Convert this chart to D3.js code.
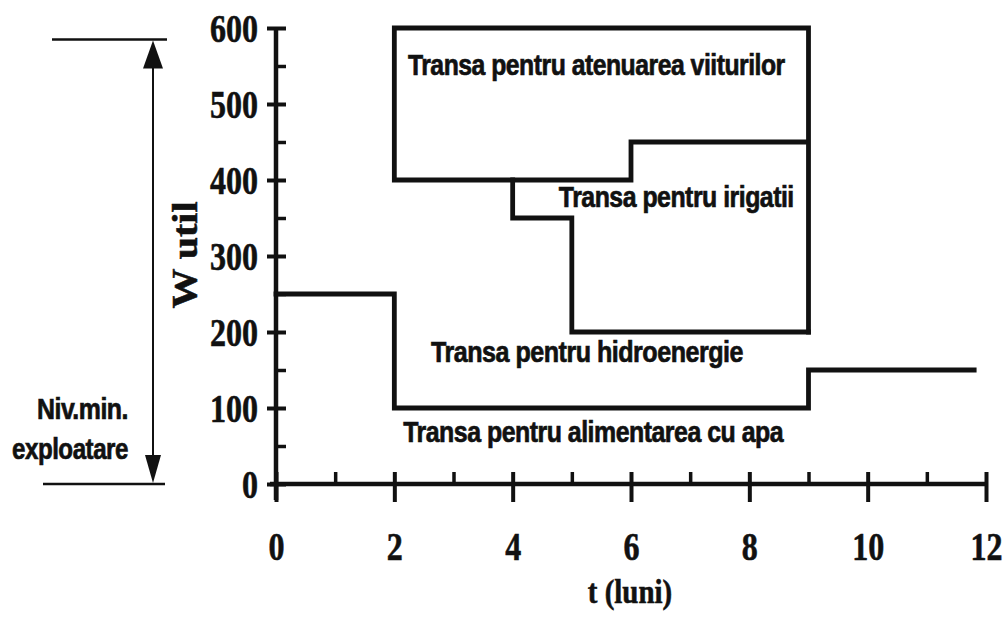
<!DOCTYPE html>
<html>
<head>
<meta charset="utf-8">
<script src="https://cdn.jsdelivr.net/npm/d3@7"></script>
<style>
  html, body { margin: 0; padding: 0; background: #fff; }
  svg { display: block; }
</style>
</head>
<body>
<svg id="chart" width="1005" height="623"></svg>
<script>
// Month ticks (t, luni) and storage ticks (W util)
const monthTicks = [0, 2, 4, 6, 8, 10, 12];
const monthMinorTicks = [1, 3, 5, 7, 9, 11];
const volumeTicks = [0, 100, 200, 300, 400, 500, 600];
const volumeMinorTicks = [50, 150, 250, 350, 450, 550];

// Flood-attenuation slice outline (its right edge continues down to the irrigation floor)
const floodT = [9, 6, 6, 2, 2, 9, 9];
const floodW = [450, 450, 400, 400, 600, 600, 200];

// Lower boundary of the irrigation slice
const irrigT = [4, 4, 5, 5, 9];
const irrigW = [400, 350, 350, 200, 200];

// Boundary between hydropower slice and water-supply slice
const hydroT = [0, 2, 2, 9, 9, 11.8];
const hydroW = [250, 250, 100, 100, 150, 150];

// Useful storage range shown by the arrow on the left (from minimum operating level)
const usefulRange = [0, 585];

// Slice labels, anchored at (t, W) of their baseline start
const sliceLabels = ["Transa pentru atenuarea viiturilor", "Transa pentru irigatii", "Transa pentru hidroenergie", "Transa pentru alimentarea cu apa"];
const sliceLabelT = [2.23, 4.78, 2.62, 2.15];
const sliceLabelW = [538, 365, 160, 55];

// Condensed label widths (px)
const sliceLabelWidth = [377, 235, 312, 380];

const svg = d3.select("#chart");
const ink = "#111";

const x = d3.scaleLinear().domain([0, 12]).range([276, 986]);
const y = d3.scaleLinear().domain([0, 600]).range([484, 28]);

const serif = "'Liberation Serif', 'Times New Roman', serif";
const sans = "'Liberation Sans', Arial, sans-serif";

// Squeeze a text node horizontally so it spans the given width
function fitWidth(sel, tx, ty, width) {
  sel.attr("transform", null);
  const len = sel.node().getComputedTextLength();
  sel.attr("transform", `translate(${tx},${ty}) scale(${width / len},1)`);
}

// ---- X axis ----
const xAxisG = svg.append("g").attr("transform", `translate(0,${y(0)})`);
xAxisG.call(d3.axisBottom(x).tickValues(monthTicks).tickSizeOuter(0).tickSizeInner(18).tickFormat(d3.format("d")));
xAxisG.select(".domain").remove();
xAxisG.selectAll(".tick line").attr("y1", -12).attr("y2", 18).attr("stroke", ink).attr("stroke-width", 4);
xAxisG.selectAll(".tick text")
  .attr("y", null).attr("dy", null)
  .attr("transform", "translate(0,76) scale(0.8,1)")
  .attr("font-family", serif).attr("font-weight", "bold").attr("font-size", 40)
  .attr("fill", ink).attr("stroke", ink).attr("stroke-width", 0.6)
  .attr("text-anchor", "middle");

const xMinorG = svg.append("g").attr("transform", `translate(0,${y(0)})`);
xMinorG.call(d3.axisBottom(x).tickValues(monthMinorTicks).tickSizeOuter(0).tickFormat(""));
xMinorG.select(".domain").remove();
xMinorG.selectAll(".tick line").attr("y1", -12).attr("y2", 0).attr("stroke", ink).attr("stroke-width", 3.5);

svg.append("line")
  .attr("x1", x(0) - 6).attr("x2", x(12) + 1)
  .attr("y1", y(0)).attr("y2", y(0))
  .attr("stroke", ink).attr("stroke-width", 4.5);

// ---- Y axis ----
const yAxisG = svg.append("g").attr("transform", `translate(${x(0)},0)`);
yAxisG.call(d3.axisLeft(y).tickValues(volumeTicks).tickSizeOuter(0).tickFormat(d3.format("d")));
yAxisG.select(".domain").remove();
yAxisG.selectAll(".tick line").attr("x1", -9).attr("x2", 10).attr("stroke", ink).attr("stroke-width", 4);
yAxisG.selectAll(".tick text")
  .attr("x", null).attr("dy", null)
  .attr("transform", "translate(-18,13) scale(0.8,1)")
  .attr("font-family", serif).attr("font-weight", "bold").attr("font-size", 40)
  .attr("fill", ink).attr("stroke", ink).attr("stroke-width", 0.6)
  .attr("text-anchor", "end");

const yMinorG = svg.append("g").attr("transform", `translate(${x(0)},0)`);
yMinorG.call(d3.axisLeft(y).tickValues(volumeMinorTicks).tickSizeOuter(0).tickFormat(""));
yMinorG.select(".domain").remove();
yMinorG.selectAll(".tick line").attr("x1", 0).attr("x2", 10).attr("stroke", ink).attr("stroke-width", 3.5);

svg.append("line")
  .attr("x1", x(0)).attr("x2", x(0))
  .attr("y1", y(600)).attr("y2", y(0) + 16)
  .attr("stroke", ink).attr("stroke-width", 4.5);

// ---- Axis titles ----
svg.append("text")
  .attr("transform", `translate(${(x(0) + x(12)) / 2 - 1},603) scale(0.85,1)`)
  .attr("text-anchor", "middle")
  .attr("font-family", serif).attr("font-weight", "bold").attr("font-size", 34)
  .attr("fill", ink).attr("stroke", ink).attr("stroke-width", 0.6)
  .text("t (luni)");

svg.append("text")
  .attr("transform", `translate(197,${y(300) - 1}) rotate(-90) scale(1,0.9)`)
  .attr("text-anchor", "middle")
  .attr("font-family", serif).attr("font-weight", "bold").attr("font-size", 40)
  .attr("fill", ink).attr("stroke", ink).attr("stroke-width", 0.6)
  .text("W util");

// ---- Slice boundaries ----
const line = d3.line().x(d => x(d[0])).y(d => y(d[1])).curve(d3.curveLinear);
const boundaries = [d3.zip(floodT, floodW), d3.zip(irrigT, irrigW), d3.zip(hydroT, hydroW)];
svg.append("g").selectAll("path").data(boundaries).join("path")
  .attr("d", line)
  .attr("fill", "none")
  .attr("stroke", ink)
  .attr("stroke-width", 4.8)
  .attr("stroke-linejoin", "miter")
  .attr("stroke-linecap", "square");

// ---- Slice labels ----
svg.append("g").selectAll("text").data(d3.zip(sliceLabels, sliceLabelT, sliceLabelW, sliceLabelWidth)).join("text")
  .attr("font-family", sans).attr("font-weight", "bold").attr("font-size", 30)
  .attr("letter-spacing", -0.6)
  .attr("fill", ink).attr("stroke", ink).attr("stroke-width", 0.7)
  .text(d => d[0])
  .each(function(d) { fitWidth(d3.select(this), x(d[1]), y(d[2]), d[3]); });

// ---- Useful-storage arrow on the left ----
const arrowX = 153;
const ann = svg.append("g").attr("stroke", ink).attr("fill", ink);
ann.append("line").attr("x1", 52).attr("x2", 167).attr("y1", y(usefulRange[1])).attr("y2", y(usefulRange[1])).attr("stroke-width", 2.5);
ann.append("line").attr("x1", 43).attr("x2", 165).attr("y1", y(usefulRange[0])).attr("y2", y(usefulRange[0])).attr("stroke-width", 2.5);
ann.append("line").attr("x1", arrowX).attr("x2", arrowX)
  .attr("y1", y(usefulRange[1]) + 20).attr("y2", y(usefulRange[0]) - 20).attr("stroke-width", 2);
ann.append("path").attr("stroke", "none")
  .attr("d", `M${arrowX},${y(usefulRange[1]) + 1} L${arrowX - 10},${y(usefulRange[1]) + 29} L${arrowX + 10},${y(usefulRange[1]) + 29} Z`);
ann.append("path").attr("stroke", "none")
  .attr("d", `M${arrowX},${y(usefulRange[0]) - 1} L${arrowX - 8},${y(usefulRange[0]) - 29} L${arrowX + 8},${y(usefulRange[0]) - 29} Z`);

const levelText = svg.append("g")
  .attr("font-family", sans).attr("font-weight", "bold").attr("font-size", 30)
  .attr("letter-spacing", -0.6).attr("fill", ink).attr("stroke", ink).attr("stroke-width", 0.7);
levelText.append("text").text("Niv.min.").call(fitWidth, 37, 419, 91);
levelText.append("text").text("exploatare").call(fitWidth, 12, 459, 116);
</script>
</body>
</html>
